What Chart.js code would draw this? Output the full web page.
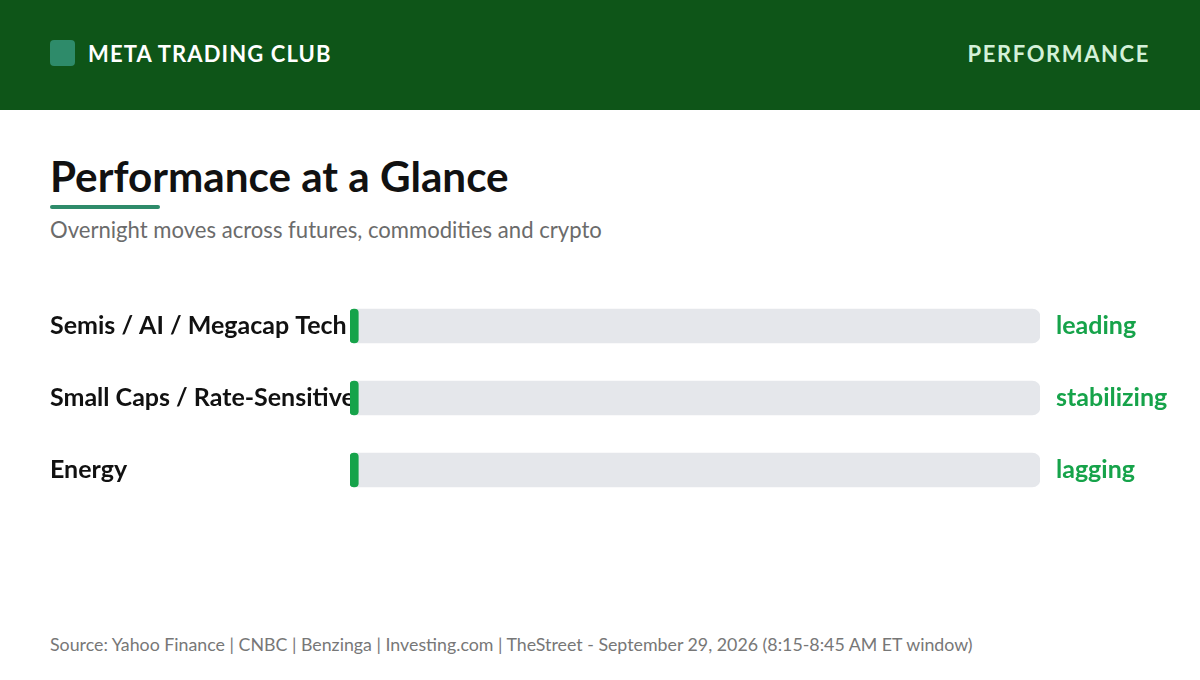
<!DOCTYPE html>
<html>
<head>
<meta charset="utf-8">
<script src="https://cdn.jsdelivr.net/npm/chart.js@4.4.1/dist/chart.umd.min.js"></script>
<style>
  html, body { margin: 0; padding: 0; }
  body { width: 1200px; height: 680px; position: relative; background: #fff; font-family: Lato, "Open Sans", sans-serif; overflow: hidden; }
  .header { position: absolute; left: 0; top: 0; width: 1200px; height: 110px; background: #0e5518; }
  .logo { position: absolute; left: 50px; top: 40px; width: 25px; height: 26px; border-radius: 4px; background: #2e8b6a; }
  .brand { position: absolute; left: 88px; top: 40px; line-height: 28px; font-size: 22px; font-weight: 700; letter-spacing: 1.1px; color: #fff; }
  .section { position: absolute; right: 50px; top: 40px; line-height: 28px; font-size: 22px; font-weight: 700; letter-spacing: 1.6px; color: #d3f0d8; }
  .title { position: absolute; left: 50px; top: 152px; font-size: 42.2px; line-height: 48px; font-weight: 700; color: #111; }
  .rule { position: absolute; left: 50px; top: 205px; width: 110px; height: 4px; border-radius: 2px; background: #2e8b6a; }
  .subtitle { position: absolute; left: 50px; top: 217px; font-size: 22.1px; line-height: 26px; color: #6b6b6b; }
  .chartBox { position: absolute; left: 0; top: 290px; width: 1200px; height: 216px; }
  .footer { position: absolute; left: 50px; top: 632px; font-size: 17.8px; line-height: 24px; color: #777; }
</style>
</head>
<body>
<div class="header">
  <div class="logo"></div>
  <div class="brand">META TRADING CLUB</div>
  <div class="section">PERFORMANCE</div>
</div>
<div class="title">Performance at a Glance</div>
<div class="rule"></div>
<div class="subtitle">Overnight moves across futures, commodities and crypto</div>
<div class="chartBox"><canvas id="barChart"></canvas></div>
<div class="footer">Source: Yahoo Finance | CNBC | Benzinga | Investing.com | TheStreet - September 29, 2026 (8:15-8:45 AM ET window)</div>

<script>
const categories = ["Semis / AI / Megacap Tech", "Small Caps / Rate-Sensitive", "Energy"];
const values = [1.2, 1.2, 1.2];
const trackValues = [100, 100, 100];
const statusLabels = ["leading", "stabilizing", "lagging"];

const labelFont = "700 25px Lato, 'Open Sans', sans-serif";

// 左側類別名稱（畫在長條下方，超出部分被裁掉）
const nameLabels = {
  id: "nameLabels",
  beforeDatasetsDraw(chart) {
    const ctx = chart.ctx;
    const yScale = chart.scales.y;
    const area = chart.chartArea;
    ctx.save();
    ctx.font = labelFont;
    ctx.textBaseline = "middle";
    ctx.textAlign = "left";
    ctx.fillStyle = "#111";
    ctx.beginPath();
    ctx.rect(0, 0, area.left + 2, chart.height);
    ctx.clip();
    categories.forEach((name, i) => {
      ctx.fillText(name, 50, yScale.getPixelForValue(i));
    });
    ctx.restore();
  },
};

// 右側狀態文字
const statusText = {
  id: "statusText",
  afterDatasetsDraw(chart) {
    const ctx = chart.ctx;
    const yScale = chart.scales.y;
    const area = chart.chartArea;
    ctx.save();
    ctx.font = labelFont;
    ctx.textBaseline = "middle";
    ctx.textAlign = "left";
    ctx.fillStyle = "#16a34a";
    statusLabels.forEach((txt, i) => {
      ctx.fillText(txt, area.right + 16, yScale.getPixelForValue(i));
    });
    ctx.restore();
  },
};

const barChart = new Chart(document.getElementById("barChart").getContext("2d"), {
  type: "bar",
  data: {
    labels: categories,
    datasets: [
      {
        label: "value",
        data: values,
        backgroundColor: "#16a34a",
        borderRadius: 4,
        borderSkipped: false,
        barThickness: 34,
        grouped: false,
        order: 1,
      },
      {
        label: "track",
        data: trackValues,
        backgroundColor: "#e5e7eb",
        borderRadius: 8,
        borderSkipped: false,
        barThickness: 34,
        grouped: false,
        order: 2,
      },
    ],
  },
  options: {
    indexAxis: "y",
    responsive: true,
    maintainAspectRatio: false,
    animation: false,
    layout: { padding: { left: 350, right: 160, top: 0, bottom: 0 } },
    plugins: {
      legend: { display: false },
      tooltip: { enabled: false },
    },
    scales: {
      x: { display: false, min: 0, max: 100 },
      y: { display: false },
    },
  },
  plugins: [nameLabels, statusText],
});
</script>
</body>
</html>
